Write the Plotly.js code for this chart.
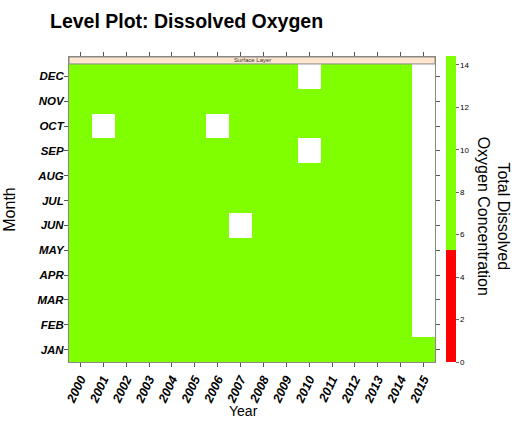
<!DOCTYPE html>
<html>
<head>
<meta charset="utf-8">
<script src="https://cdn.plot.ly/plotly-3.0.1.min.js"></script>
<style>html,body{margin:0;padding:0;background:#fff;}#chart{width:515px;height:421px;}</style>
</head>
<body>
<div id="chart"></div>
<script>
// Years (x) and months (y)
const years = [2000,2001,2002,2003,2004,2005,2006,2007,2008,2009,2010,2011,2012,2013,2014,2015];
const monthNums = [1,2,3,4,5,6,7,8,9,10,11,12];
const monthLabels = ["JAN","FEB","MAR","APR","MAY","JUN","JUL","AUG","SEP","OCT","NOV","DEC"];
// Dissolved oxygen per month row (2000..2015), null = no data (white)
const doJan = [12.1,11.8,12.4,12.0,11.6,12.3,11.9,12.2,12.5,11.7,12.0,12.6,11.4,12.1,11.9,12.2];
const doFeb = [12.6,12.2,12.8,12.4,12.1,12.9,12.3,12.5,13.0,12.0,12.7,12.4,11.8,12.6,12.3,null];
const doMar = [11.9,11.5,12.1,11.7,11.3,12.0,11.6,11.8,12.2,11.4,11.9,11.7,11.0,11.8,11.5,null];
const doApr = [10.6,10.2,10.9,10.4,10.0,10.7,10.3,10.5,10.8,10.1,10.6,10.2,9.8,10.5,10.1,null];
const doMay = [9.3,9.0,9.6,9.1,8.8,9.4,9.0,9.2,9.5,8.9,9.3,8.9,8.6,9.2,8.8,null];
const doJun = [8.2,7.9,8.4,8.0,7.7,8.3,7.9,null,8.4,7.8,8.1,7.8,7.5,8.0,7.7,null];
const doJul = [7.5,7.2,7.7,7.3,7.0,7.6,7.2,7.4,7.8,7.1,7.4,7.1,6.8,7.3,7.0,null];
const doAug = [7.3,7.0,7.5,7.1,6.9,7.4,7.0,7.2,7.6,6.9,7.2,6.9,6.6,7.1,6.8,null];
const doSep = [7.9,7.6,8.1,7.7,7.4,8.0,7.6,7.8,8.2,7.5,null,7.5,7.2,7.7,7.4,null];
const doOct = [9.0,null,9.2,8.8,8.5,9.1,null,8.9,9.3,8.6,8.9,8.6,8.3,8.8,8.5,null];
const doNov = [10.3,10.0,10.5,10.1,9.8,10.4,10.0,10.2,10.6,9.9,10.2,9.9,9.6,10.1,9.8,null];
const doDec = [11.6,11.2,11.8,11.4,11.1,11.7,11.3,11.5,11.9,11.2,null,11.2,10.9,11.4,11.1,null];
const cbTicks = [0,2,4,6,8,10,12,14];
const stripLabel = "Surface Layer";

const z = [doJan,doFeb,doMar,doApr,doMay,doJun,doJul,doAug,doSep,doOct,doNov,doDec];

const FAM = "Liberation Sans, Arial, sans-serif";
const tickFont = {family:FAM, size:11.5, color:"#000", weight:"bold", style:"italic"};

const trace = {
  type:"heatmap", x:years, y:monthNums, z:z,
  zmin:0, zmax:14.42,
  colorscale:[[0,"#FF0000"],[0.365,"#FF0000"],[0.365,"#7FFF00"],[1,"#7FFF00"]],
  hoverongaps:false,
  colorbar:{
    x:(447-68.5)/367, xanchor:"left",
    y:(362-209)/305, yanchor:"middle",
    len:306, lenmode:"pixels", thickness:10, thicknessmode:"pixels",
    xpad:0, ypad:0, outlinewidth:0,
    tickvals:cbTicks, ticks:"outside", ticklen:3, tickcolor:"#666",
    tickfont:{family:FAM, size:8, color:"#000"}
  }
};

const layout = {
  width:515, height:421,
  margin:{l:68.5, r:79.5, t:57, b:59},
  paper_bgcolor:"#fff", plot_bgcolor:"#fff",
  title:{text:"Level Plot: Dissolved Oxygen", xref:"container", x:50/515, xanchor:"left",
         yref:"container", y:1-21/421, yanchor:"middle",
         font:{family:FAM, size:19.5, color:"#000", weight:"bold"}},
  xaxis:{range:[1999.5,2015.5], tickvals:years, ticktext:years.map(String), tickangle:-65,
         tickfont:{family:FAM, size:12.5, color:"#000", weight:"bold", style:"italic"},
         ticks:"outside", ticklen:4, tickcolor:"#555",
         showline:true, linecolor:"#888", linewidth:1, mirror:"ticks", showgrid:false, zeroline:false},
  yaxis:{range:[0.5,12.78], tickvals:monthNums, ticktext:monthLabels,
         tickfont:tickFont, ticks:"outside", ticklen:4, tickcolor:"#555", ticklabelstandoff:-2,
         showline:true, linecolor:"#888", linewidth:1, mirror:"ticks", showgrid:false, zeroline:false,
         title:{text:"Month", font:{family:FAM, size:16, color:"#000"}, standoff:17}},
  shapes:[{type:"rect", xref:"x", yref:"y", x0:1999.5, x1:2015.5, y0:12.5, y1:12.78,
           fillcolor:"#FFE5CC", line:{color:"#888", width:1}, layer:"above"}],
  annotations:[
    {text:stripLabel, xref:"x", yref:"y", x:2007.5, y:12.64, showarrow:false,
     font:{family:FAM, size:6, color:"#333"}},
    {text:"Year", xref:"paper", yref:"paper", x:(243-68.5)/367, y:(362-411)/305,
     xanchor:"center", yanchor:"middle", showarrow:false,
     font:{family:FAM, size:14, color:"#000"}},
    {text:"Total Dissolved<br>Oxygen Concentration", xref:"paper", yref:"paper",
     x:(494-68.5)/367, y:(362-216)/305, xanchor:"center", yanchor:"middle",
     textangle:90, showarrow:false,
     font:{family:FAM, size:16, color:"#000"}}
  ]
};

Plotly.newPlot("chart",[trace],layout,{displayModeBar:false, staticPlot:true});
</script>
</body>
</html>
